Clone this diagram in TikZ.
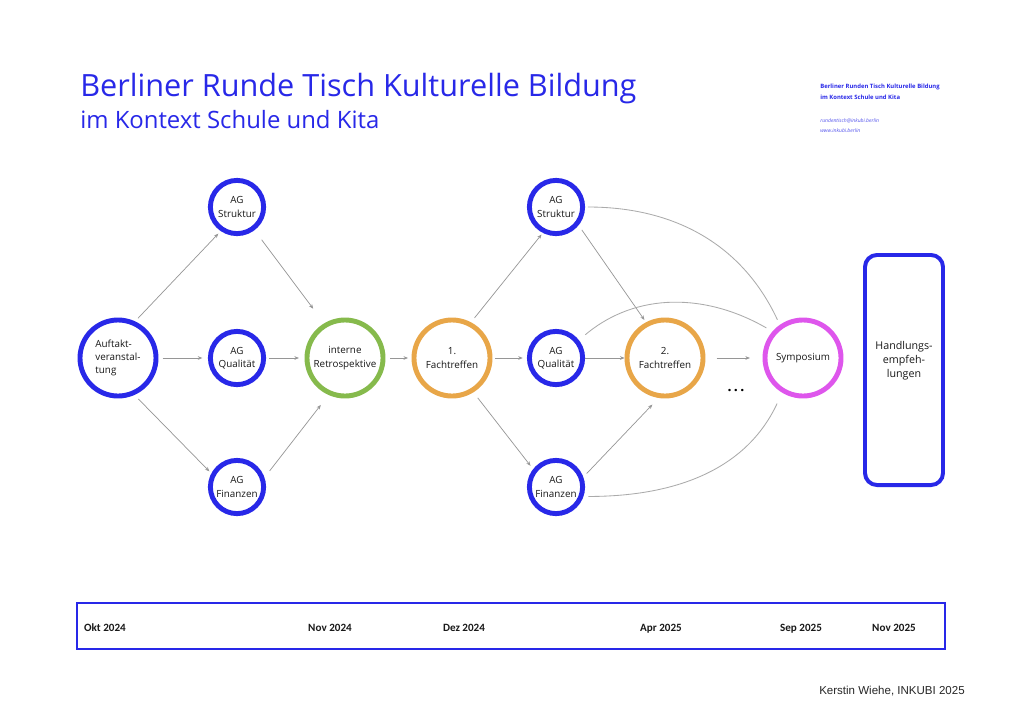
\documentclass[tikz,border=0pt]{standalone}
\usepackage{fontspec}
\setmainfont{Open Sans}
\newfontfamily\datumfont{Carlito}
\newfontfamily\fussfont{Liberation Sans}
\usetikzlibrary{arrows.meta}

\definecolor{inkblau}{RGB}{40,40,232}
\definecolor{inkgruen}{RGB}{134,186,76}
\definecolor{inkorange}{RGB}{232,166,72}
\definecolor{inkmagenta}{RGB}{222,86,236}
\definecolor{pfeilgrau}{RGB}{150,150,150}

\tikzset{
  kreis/.style={circle, line width=3.5pt, fill=white, align=center, inner sep=0pt,
    text=black!90, font=\fontsize{7}{9.5}\selectfont},
  agkreis/.style={kreis, draw=inkblau, minimum size=1.33cm},
  grosskreis/.style={kreis, minimum size=1.9cm},
  pfeil/.style={draw=pfeilgrau, line width=0.5pt, -{Stealth[length=3.2pt,width=2.6pt]}},
  bogen/.style={draw=pfeilgrau!80, line width=0.6pt},
  datum/.style={anchor=base, inner sep=0pt, font=\datumfont\bfseries\fontsize{7.9}{10}\selectfont, text=black!90},
  kopf/.style={anchor=base west, inner sep=0pt, text=inkblau},
}

\begin{document}
\begin{tikzpicture}[x=0.025cm, y=-0.025cm]
  \fill[white] (0,0) rectangle (1024,724);
  \useasboundingbox (0,0) rectangle (1024,724);

  % Titel
  \node[kopf, font=\fontsize{21.8}{24}\selectfont] (titel) at (80,96) {Berliner Runde Tisch Kulturelle Bildung};
  \node[kopf, font=\fontsize{17}{19}\selectfont] (untertitel) at (80,128) {im Kontext Schule und Kita};

  % Kopf rechts
  \node[kopf, font=\bfseries\fontsize{4.2}{5}\selectfont] (kopf1) at (820,88) {Berliner Runden Tisch Kulturelle Bildung};
  \node[kopf, font=\bfseries\fontsize{4.2}{5}\selectfont] (kopf2) at (820,99) {im Kontext Schule und Kita};
  \node[kopf, text=inkblau!80, font=\itshape\fontsize{3.6}{5}\selectfont] (mail) at (820,122) {rundentisch@inkubi.berlin};
  \node[kopf, text=inkblau!80, font=\itshape\fontsize{3.6}{5}\selectfont] (web) at (820,132.5) {www.inkubi.berlin};

  % Kreise
  \node[grosskreis, draw=inkblau, align=left] (auftakt) at (118,358) {Auftakt-\\veranstal-\\tung};
  \node[agkreis] (strukturA) at (237,207) {AG\\Struktur};
  \node[agkreis] (qualiA) at (237,358) {AG\\Qualität};
  \node[agkreis] (finanzA) at (237,487) {AG\\Finanzen};
  \node[grosskreis, draw=inkgruen] (retro) at (345,358) {interne\\Retrospektive};
  \node[grosskreis, draw=inkorange] (fach1) at (452,358) {1.\\Fachtreffen};
  \node[agkreis] (strukturB) at (556,207) {AG\\Struktur};
  \node[agkreis] (qualiB) at (556,358) {AG\\Qualität};
  \node[agkreis] (finanzB) at (556,487) {AG\\Finanzen};
  \node[grosskreis, draw=inkorange] (fach2) at (665,358) {2.\\Fachtreffen};
  \node[grosskreis, draw=inkmagenta] (sympo) at (803,358) {Symposium};
  \node[font=\bfseries\fontsize{10}{12}\selectfont] (punkte) at (736,391) {.\,.\,.};

  % Handlungsempfehlungen
  \node[draw=inkblau, line width=2.8pt, rounded corners=0.3cm, minimum width=1.95cm, minimum height=5.75cm] (handlung) at (904,370) {};
  \node[align=center, text=black!90, font=\fontsize{7.6}{10}\selectfont] (handtext) at (904,361) {Handlungs-\\empfeh-\\lungen};

  % Pfeile
  \draw[pfeil, shorten <=3pt, shorten >=2.5pt] (auftakt.65) -- (strukturA.236);
  \draw[pfeil, shorten <=3pt, shorten >=4pt] (auftakt) -- (qualiA);
  \draw[pfeil, shorten <=4pt, shorten >=2pt] (auftakt.294) -- (finanzA.152);
  \draw[pfeil, shorten <=8.5pt, shorten >=13pt] (strukturA.307) -- (retro.121);
  \draw[pfeil, shorten <=2pt, shorten >=4pt] (qualiA) -- (retro);
  \draw[pfeil, shorten <=6pt, shorten >=9pt] (finanzA.19) -- (retro.246);
  \draw[pfeil, shorten <=3.5pt, shorten >=2.5pt] (retro) -- (fach1);
  \draw[pfeil, shorten <=4pt, shorten >=1.5pt] (fach1.62) -- (strukturB.243);
  \draw[pfeil, shorten <=2pt, shorten >=3pt] (fach1) -- (qualiB);
  \draw[pfeil, shorten <=5pt, shorten >=3pt] (fach1.302) -- (finanzB.142);
  \draw[pfeil, shorten <=4pt, shorten >=2pt] (strukturB.321) -- (fach2.118);
  \draw[pfeil] (qualiB) -- (fach2);
  \draw[pfeil, shorten <=3.5pt, shorten >=6.5pt] (finanzB.20) -- (fach2.261);
  \draw[pfeil, shorten <=8pt, shorten >=9pt] (fach2) -- (sympo);

  % Boegen zum Symposium
  \draw[bogen, shorten <=2pt, shorten >=4pt] (strukturB.east) to[out=0, in=115] (sympo.125);
  \draw[bogen, shorten <=6pt, shorten >=5pt] (qualiB.38) to[out=40, in=150] (sympo.139);
  \draw[bogen, shorten <=3.5pt, shorten >=8.5pt] (finanzB.341) to[out=0, in=-115] (sympo.239);

  % Zeitleiste
  \draw[inkblau, line width=1.4pt] (77,603) rectangle (945,649);
  \foreach \x/\monat [count=\i] in {105/Okt 2024, 330/Nov 2024, 464/Dez 2024, 661/Apr 2025, 801/Sep 2025, 894/Nov 2025}
    \node[datum] (datum\i) at (\x,631) {\monat};

  \node[anchor=base east, inner sep=0pt, text=black!85, font=\fussfont\fontsize{8.2}{10}\selectfont] (autor) at (965,694) {Kerstin Wiehe, INKUBI 2025};
\end{tikzpicture}
\end{document}
